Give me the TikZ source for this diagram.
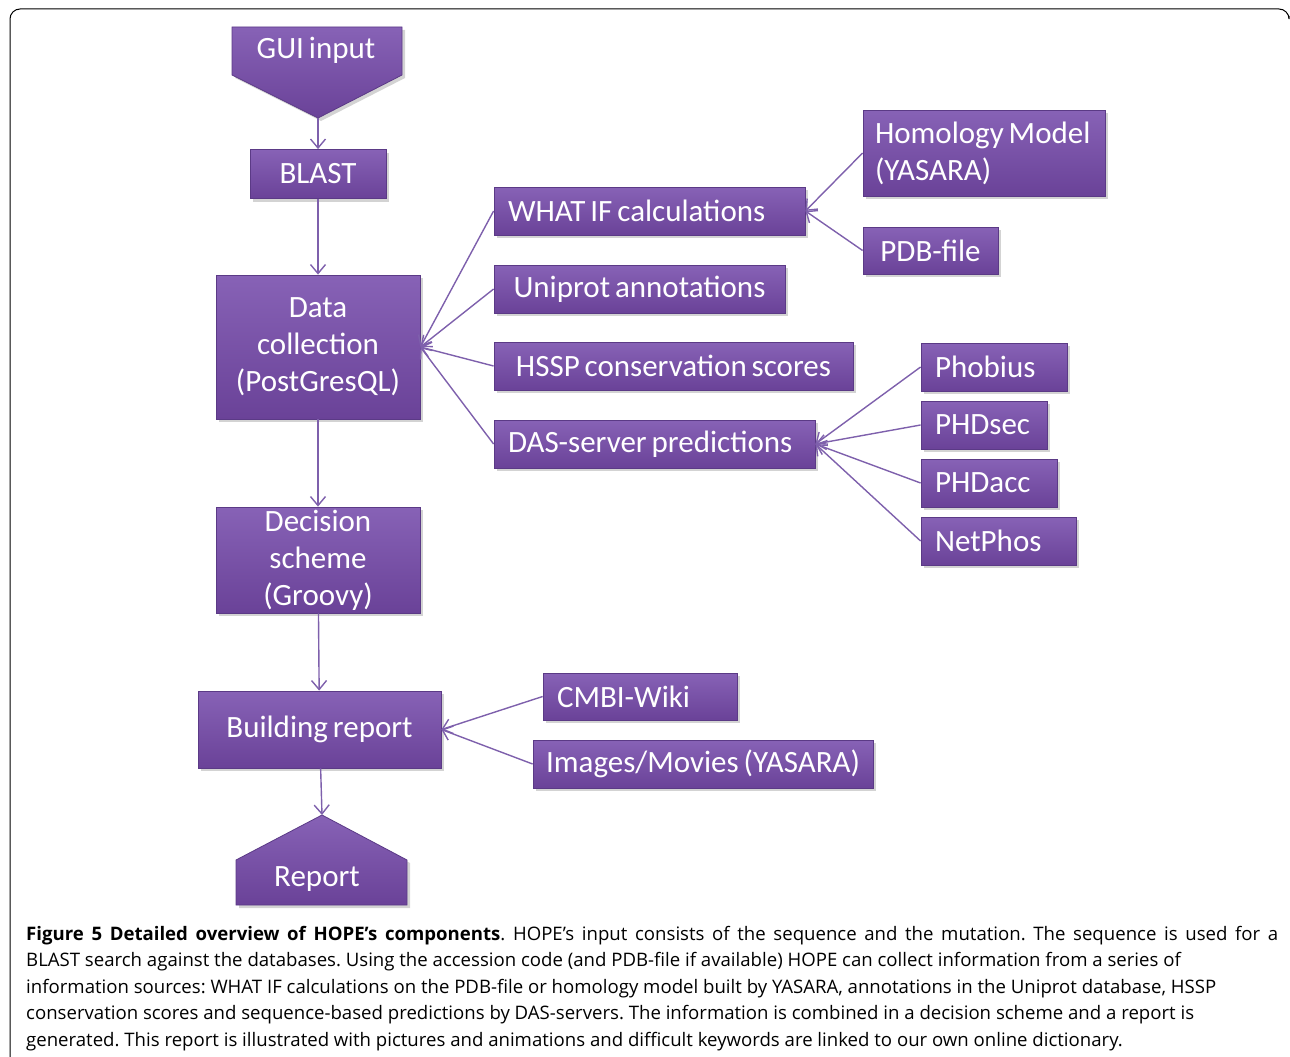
\documentclass[tikz,border=0pt]{standalone}
\usepackage{fontspec}
\setmainfont{Carlito}[WordSpace=0.7]
\newfontfamily\capfont{Open Sans}
\usepackage{tikz}
\usetikzlibrary{arrows.meta,shadows}
\definecolor{boxtop}{HTML}{8762B6}
\definecolor{boxbot}{HTML}{6A4298}
\definecolor{boxedge}{HTML}{5B3A86}
\definecolor{link}{HTML}{7E60AC}

\begin{document}
\begin{tikzpicture}[x=1pt,y=-1pt,
    box/.style={draw=boxedge, line width=0.8pt, top color=boxtop, bottom color=boxbot,
      text=white, font=\fontsize{31}{37}\selectfont, inner sep=0pt, align=center,
      drop shadow={shadow xshift=3pt, shadow yshift=-3pt, opacity=.35}},
    lbox/.style={box, inner xsep=14pt, align=flush left},
    arr/.style={draw=link, line width=1.4pt, -{Straight Barb[length=9pt,width=15pt]}}]
  \useasboundingbox (0,0) rectangle (1290,1057);
  \draw[line width=1pt, rounded corners=10pt] (10,1057) -- (10,9) -- (1289,9) -- (1289,16);

  \path[box] (232,27) -- (402,27) -- (402,75) -- (318,118) -- (232,75) -- cycle;
  \node[text=white, font=\fontsize{31}{37}\selectfont] (gui) at (316,50) {GUI input};
  \coordinate (guitip) at (318,118);
  \node[box, minimum width=136pt, minimum height=49pt] (blast) at (318,174) {BLAST};
  \node[box, minimum width=204pt, minimum height=144pt] (data) at (318,347) {Data\\collection\\(PostGresQL)};
  \node[box, minimum width=204pt, minimum height=106pt] (dec) at (318,560) {Decision\\scheme\\(Groovy)};
  \node[box, minimum width=243pt, minimum height=77pt] (build) at (319.5,729.5) {Building report};
  \path[box] (236,860) -- (322,815) -- (407,860) -- (407,905) -- (236,905) -- cycle;
  \node[text=white, font=\fontsize{31}{37}\selectfont] (rep) at (317,879) {Report};
  \coordinate (reptip) at (322,815);

  \node[lbox, text width=283pt, minimum height=48pt] (whatif) at (649.5,211) {WHAT IF calculations};
  \node[box, minimum width=291pt, minimum height=48pt] (uni) at (639.5,289) {Uniprot annotations};
  \node[box, minimum width=359pt, minimum height=48pt] (hssp) at (673.5,366) {HSSP conservation scores};
  \node[lbox, text width=293pt, minimum height=48pt] (das) at (654.5,444) {DAS-server predictions};

  \node[lbox, inner xsep=12pt, text width=218pt, minimum height=86pt] (hom) at (984,153) {Homology Model\\(YASARA)};
  \node[box, minimum width=135pt, minimum height=47pt] (pdb) at (930.5,250.5) {PDB-file};

  \node[lbox, text width=118pt, minimum height=48pt] (phob) at (994,367) {Phobius};
  \node[lbox, text width=98pt, minimum height=48pt] (sec) at (984,425) {PHDsec};
  \node[lbox, text width=108pt, minimum height=48pt] (acc) at (989,483) {PHDacc};
  \node[lbox, text width=127pt, minimum height=48pt] (net) at (998.5,541) {NetPhos};

  \node[lbox, text width=166pt, minimum height=47pt] (wiki) at (640,696.5) {CMBI-Wiki};
  \node[box, minimum width=340pt, minimum height=48pt] (img) at (703,764) {Images/Movies (YASARA)};

  \draw[arr] (guitip) -- (blast);
  \draw[arr] (blast) -- (data);
  \draw[arr] (data) -- (dec);
  \draw[arr] (dec) -- (build);
  \draw[arr] (build) -- (reptip);
  \foreach \n in {whatif,uni,hssp,das}
    \draw[arr] (\n.west) -- (data.east);
  \foreach \n in {hom,pdb}
    \draw[arr] (\n.west) -- (whatif.east);
  \foreach \n in {phob,sec,acc,net}
    \draw[arr] (\n.west) -- (das.east);
  \foreach \n in {wiki,img}
    \draw[arr] (\n.west) -- (build.east);

  \node[anchor=north west, inner sep=0pt, text width=1252pt, align=justify,
    font=\capfont\fontsize{18.6}{26.5}\selectfont\frenchspacing] (cap) at (26,926)
    {\textbf{Figure 5 Detailed overview of HOPE’s components}. HOPE’s input consists of the sequence and the mutation. The sequence is used for a\linebreak
    BLAST search against the databases. Using the accession code (and PDB-file if available) HOPE can collect information from a series of\newline
    information sources: WHAT IF calculations on the PDB-file or homology model built by YASARA, annotations in the Uniprot database, HSSP\newline
    conservation scores and sequence-based predictions by DAS-servers. The information is combined in a decision scheme and a report is\newline
    generated. This report is illustrated with pictures and animations and difficult keywords are linked to our own online dictionary.};
\end{tikzpicture}
\end{document}
